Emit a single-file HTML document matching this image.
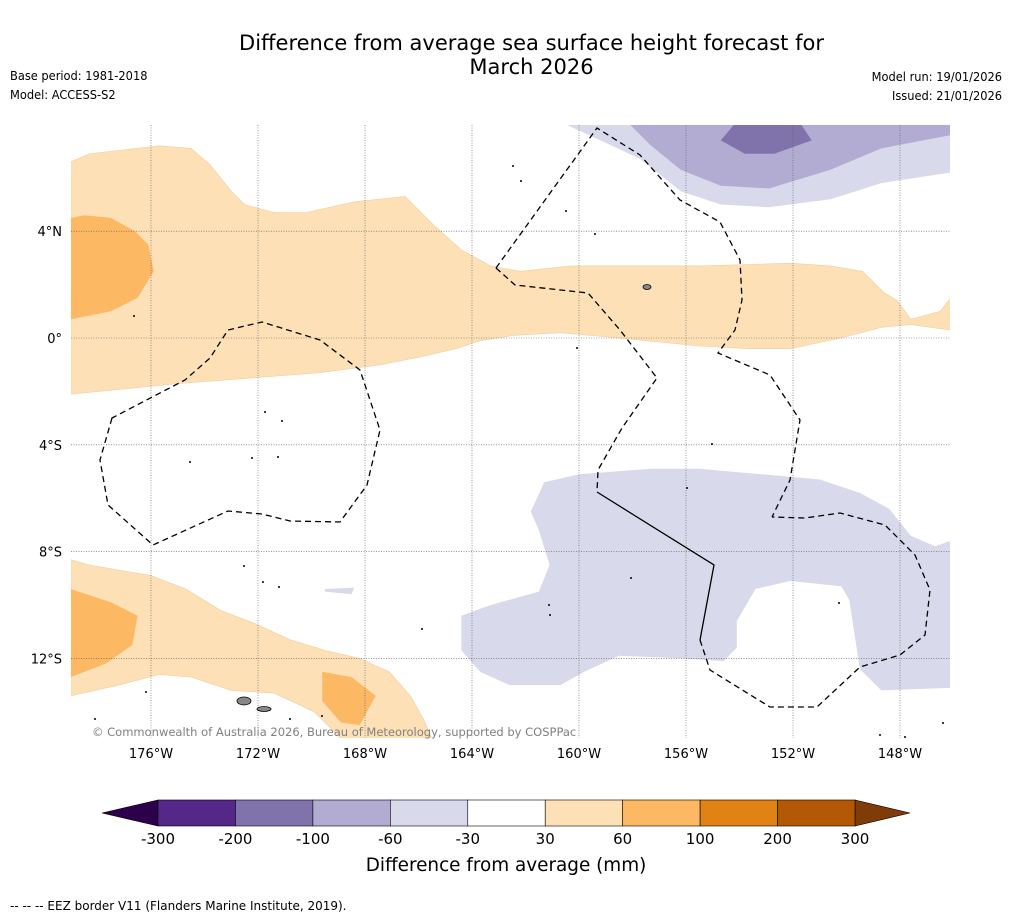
<!DOCTYPE html>
<html><head><meta charset="utf-8">
<style>
body{margin:0;background:#fff;font-family:"DejaVu Sans","Liberation Sans",sans-serif;}
#wrap{position:relative;width:1011px;height:919px;overflow:hidden;background:#fff}
.t{position:absolute;white-space:nowrap;color:#000}
.small{font-size:12.7px;font-stretch:condensed}
</style></head><body>
<div id="wrap">
<div class="t" style="left:0;width:1063px;top:31px;text-align:center;font-size:21px;line-height:24px">Difference from average sea surface height forecast for<br>March 2026</div>
<div class="t small" style="left:10px;top:68px">Base period: 1981-2018</div>
<div class="t small" style="left:10px;top:87px">Model: ACCESS-S2</div>
<div class="t small" style="right:9px;top:69px">Model run: 19/01/2026</div>
<div class="t small" style="right:9px;top:88px">Issued: 21/01/2026</div>
<svg id="map" width="1011" height="919" style="position:absolute;left:0;top:0"></svg>
<div class="t" style="left:10px;top:899px;font-size:12px">--  --  -- EEZ border V11 (Flanders Marine Institute, 2019).</div>
</div>
<script>
const lonTicks=[-176,-172,-168,-164,-160,-156,-152,-148];
const latTicks=[4,0,-4,-8,-12];
const cbBounds=[-300,-200,-100,-60,-30,30,60,100,200,300];
const cbColors=['#542788','#8073ac','#b2abd2','#d8daeb','#ffffff','#fee0b6','#fdb863','#e08214','#b35806'];
const cbLow='#2d004b', cbHigh='#7f3b08';
const orangeNorth=[[-179,6.6],[-178.3,6.9],[-175.7,7.2],[-174.5,7.1],[-173.8,6.5],[-173,5.5],[-172.5,5.0],[-171.4,4.7],[-170.2,4.7],[-168.4,5.1],[-166.5,5.3],[-165.4,4.2],[-164.4,3.3],[-163.3,2.7],[-162.2,2.5],[-160.3,2.7],[-158.5,2.7],[-155.5,2.7],[-152.1,2.8],[-150.6,2.7],[-149.4,2.5],[-148.6,1.7],[-148.1,1.4],[-147.6,0.7],[-146.5,1.0],[-146.1,1.5],[-146.1,0.3],[-147.6,0.5],[-148.7,0.4],[-150.2,0],[-152.1,-0.4],[-153.6,-0.4],[-155.5,-0.3],[-158.5,0],[-160.7,0.2],[-162.4,0.1],[-163.7,-0.1],[-164.6,-0.4],[-165.9,-0.7],[-167.4,-1.0],[-169.7,-1.3],[-172.3,-1.5],[-174.9,-1.7],[-179,-2.1]];
const orangeNW=[[-179,4.5],[-178.5,4.6],[-177.5,4.5],[-176.6,4.0],[-176.1,3.5],[-175.9,2.5],[-176.5,1.5],[-177.5,1.0],[-179,0.7]];
const orangeSouth=[[-179,-8.3],[-178.3,-8.5],[-176,-8.9],[-174.7,-9.4],[-173.4,-10.2],[-172.1,-10.7],[-170.8,-11.3],[-169.5,-11.7],[-168.2,-12.0],[-167.1,-12.5],[-166.3,-13.4],[-165.8,-14.3],[-165.5,-15],[-168.9,-15],[-169.9,-14.0],[-171.4,-13.3],[-173,-13.2],[-174.5,-12.7],[-175.7,-12.6],[-177.2,-13.0],[-179,-13.4]];
const orangeSW=[[-179,-9.4],[-177.5,-9.9],[-176.5,-10.4],[-176.7,-11.5],[-177.7,-12.2],[-179,-12.7]];
const orangeS2=[[-169.6,-12.5],[-168.5,-12.7],[-167.6,-13.4],[-168.2,-14.5],[-168.9,-14.4],[-169.6,-13.6]];
const purpleSouth=[[-161.3,-5.4],[-160,-5.1],[-157.3,-4.9],[-155.5,-4.9],[-153.2,-5.1],[-151,-5.3],[-149.5,-5.8],[-148.4,-6.4],[-147.6,-7.4],[-146.7,-7.8],[-146.1,-7.6],[-146.1,-13.1],[-148.7,-13.2],[-149.5,-12.4],[-149.9,-9.8],[-150.2,-9.3],[-152.1,-9.1],[-153.4,-9.4],[-154.1,-10.6],[-154.1,-11.6],[-154.6,-12.1],[-156.2,-12.0],[-158.5,-11.9],[-159.8,-12.5],[-160.7,-13.0],[-162.6,-13.0],[-163.7,-12.5],[-164.4,-11.7],[-164.4,-10.4],[-163.3,-10.0],[-161.5,-9.5],[-161.1,-8.5],[-161.5,-7.2],[-161.8,-6.5]];
const purpleSmall=[[-169.5,-9.4],[-168.4,-9.35],[-168.5,-9.6],[-169.5,-9.5]];
const purpleN1=[[-160.5,8.0],[-159.2,7.4],[-157.7,6.7],[-156.2,5.5],[-154.7,5.0],[-152.9,4.9],[-150.6,5.2],[-148.7,5.8],[-146.1,6.2],[-146.1,8.0]];
const purpleN2=[[-158.1,8.0],[-157.3,7.2],[-156.2,6.3],[-154.7,5.7],[-152.9,5.6],[-150.6,6.3],[-148.7,7.1],[-146.1,7.6],[-146.1,8.0]];
const purpleN3=[[-154.2,8.0],[-154.7,7.4],[-153.8,6.9],[-152.7,6.9],[-151.3,7.4],[-151.7,8.0]];

const X=lon=>151+(lon+176)*26.75;
const Y=lat=>338-lat*26.7;
const svg=document.getElementById('map');
const NS='http://www.w3.org/2000/svg';
function mk(tag,attrs){const e=document.createElementNS(NS,tag);for(const k in attrs)e.setAttribute(k,attrs[k]);svg.appendChild(e);return e;}
const clip=document.createElementNS(NS,'clipPath');clip.setAttribute('id','mc');
const cr=document.createElementNS(NS,'rect');cr.setAttribute('x',71);cr.setAttribute('y',125);cr.setAttribute('width',879);cr.setAttribute('height',613);clip.appendChild(cr);svg.appendChild(clip);
const g=document.createElementNS(NS,'g');g.setAttribute('clip-path','url(#mc)');svg.appendChild(g);
function poly(pts,fill,name){const p=document.createElementNS(NS,'polygon');
p.setAttribute('points',pts.map(q=>X(q[0]).toFixed(1)+','+Y(q[1]).toFixed(1)).join(' '));
p.setAttribute('fill',fill);p.setAttribute('stroke',fill==='#fee0b6'?'#f1cfa0':'none');p.setAttribute('stroke-width','0.6');


g.appendChild(p);}
poly(orangeNorth,'#fee0b6','anomaly-30-60-north');
poly(orangeNW,'#fdb863','anomaly-60-100-northwest');
poly(orangeSouth,'#fee0b6','anomaly-30-60-south');
poly(orangeSW,'#fdb863','anomaly-60-100-southwest');
poly(orangeS2,'#fdb863','anomaly-60-100-south');
poly(purpleSouth,'#d8daeb','anomaly-neg30-60-south');
poly(purpleSmall,'#d8daeb','anomaly-neg30-60-small');
poly(purpleN1,'#d8daeb','anomaly-neg30-60-north');
poly(purpleN2,'#b2abd2','anomaly-neg60-100-north');
poly(purpleN3,'#8073ac','anomaly-neg100-200-north');
lonTicks.forEach(l=>{const e=mk('line',{x1:X(l),x2:X(l),y1:125,y2:738,stroke:'#555','stroke-width':0.6,'stroke-dasharray':'1,1.5'});

const t=mk('text',{x:X(l),y:758,'font-size':13,'text-anchor':'middle','font-family':'DejaVu Sans, Liberation Sans, sans-serif'});t.textContent=Math.abs(l)+'°W';
});
latTicks.forEach(l=>{const e=mk('line',{x1:71,x2:950,y1:Y(l),y2:Y(l),stroke:'#555','stroke-width':0.6,'stroke-dasharray':'1,1.5'});

const t=mk('text',{x:62,y:Y(l)+5,'font-size':13,'text-anchor':'end','font-family':'DejaVu Sans, Liberation Sans, sans-serif'});t.textContent=l===0?'0°':Math.abs(l)+'°'+(l>0?'N':'S');
});
const eez=[
"M112,418 L100,460 L108,505 L153,545 L228,511 L262,514 L290,521 L340,522 L367,485 L380,430 L360,370 L320,340 L262,322 L228,330 L210,358 L185,380 Z",
"M496,268 L597,128 L640,155 L680,200 L720,222 L740,260 L742,300 L735,330 L718,353 L770,375 L800,420 L790,480 L772,517",
"M496,268 L515,285 L588,293 L620,330 L657,378 L622,428 L598,470 L597,492",
"M700,640 L710,670 L770,707 L817,707 L860,667 L900,655 L925,635 L930,590 L915,555 L885,525 L840,513 L805,518 L772,517"];
eez.forEach(d=>{const e=mk('path',{d:d,fill:'none',stroke:'#000','stroke-width':1.3,'stroke-dasharray':'6,4'});
});
const sl=mk('path',{d:'M597,492 L714,565 L700,640',fill:'none',stroke:'#000','stroke-width':1.3});

[[265,412],[282,421],[190,462],[252,458],[278,457],[244,566],[263,582],[279,587],[595,234],[513,166],[521,181],[566,211],[577,348],[712,444],[687,488],[631,578],[549,605],[550,615],[422,629],[839,603],[146,692],[95,719],[290,719],[322,716],[880,735],[905,737],[943,723],[134,316]].forEach(p=>{
const e=mk('circle',{cx:p[0],cy:p[1],r:1,fill:'#000'});});
[[244,701,7,4],[264,709,7,2.5],[647,287,4,2.5]].forEach(p=>{const e=mk('ellipse',{cx:p[0],cy:p[1],rx:p[2],ry:p[3],fill:'#888',stroke:'#000','stroke-width':0.8});
});
const cp=mk('text',{x:92,y:736,'font-size':11.5,fill:'#808080','font-family':'DejaVu Sans, Liberation Sans, sans-serif'});
cp.textContent='© Commonwealth of Australia 2026, Bureau of Meteorology, supported by COSPPac';

const cbX0=158,cbW=(855-158)/cbColors.length,cbY=800,cbH=26;
const lt=mk('polygon',{points:`${cbX0},${cbY} ${cbX0},${cbY+cbH} 102,${cbY+cbH/2}`,fill:cbLow,stroke:'#000','stroke-width':0.6});

const rt=mk('polygon',{points:`855,${cbY} 855,${cbY+cbH} 910,${cbY+cbH/2}`,fill:cbHigh,stroke:'#000','stroke-width':0.6});

cbColors.forEach((c,i)=>{const r=mk('rect',{x:cbX0+i*cbW,y:cbY,width:cbW,height:cbH,fill:c,stroke:'#000','stroke-width':0.6});
});
cbBounds.forEach((b,i)=>{const t=mk('text',{x:cbX0+i*cbW,y:844,'font-size':15,'text-anchor':'middle','font-family':'DejaVu Sans, Liberation Sans, sans-serif'});t.textContent=b;
});
const ct=mk('text',{x:506,y:871,'font-size':18.4,'text-anchor':'middle','font-family':'DejaVu Sans, Liberation Sans, sans-serif'});
ct.textContent='Difference from average (mm)';

</script>
</body></html>
